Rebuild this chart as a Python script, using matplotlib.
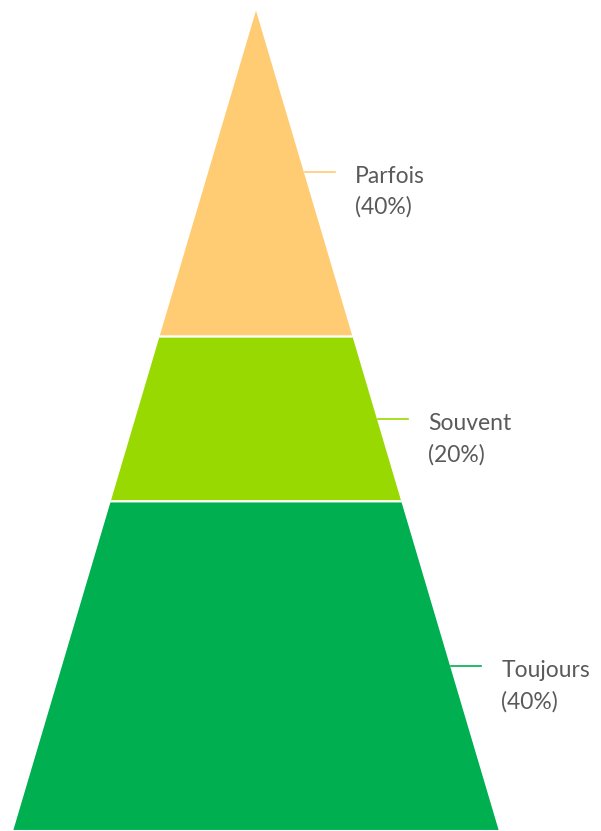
import matplotlib.pyplot as plt
from matplotlib.patches import Polygon

labels = ['Parfois', 'Souvent', 'Toujours']
values = [40, 20, 40]
colors = ['#FFCB73', '#97D900', '#00AF50']

W, H = 601, 831
apex_x, apex_y = 256, 7
base_y = 831
half_base = 244

fig = plt.figure(figsize=(W / 100, H / 100), dpi=100)
ax = fig.add_axes([0, 0, 1, 1])
ax.set_xlim(0, W)
ax.set_ylim(H, 0)
ax.axis('off')

def half_width(y):
    return half_base * (y - apex_y) / (base_y - apex_y)

total = sum(values)
y0 = apex_y
for lab, val, col in zip(labels, values, colors):
    y1 = y0 + (base_y - apex_y) * val / total
    w0, w1 = half_width(y0), half_width(y1)
    pts = [(apex_x - w0, y0), (apex_x + w0, y0), (apex_x + w1, y1), (apex_x - w1, y1)]
    ax.add_patch(Polygon(pts, closed=True, facecolor=col, edgecolor='white', linewidth=1.5))

    # leader line and label
    ym = (y0 + y1) / 2
    xr = apex_x + half_width(ym)
    ax.plot([xr, xr + 30], [ym, ym], color=col, linewidth=1.2)
    ax.text(xr + 50, ym - 6, f'{lab}\n({val}%)', ha='left', va='top',
            fontsize=16.5, color='#5a5a5a', linespacing=1.55,
            family=['Lato', 'DejaVu Sans'])
    y0 = y1

fig.savefig('out.png', dpi=100)
